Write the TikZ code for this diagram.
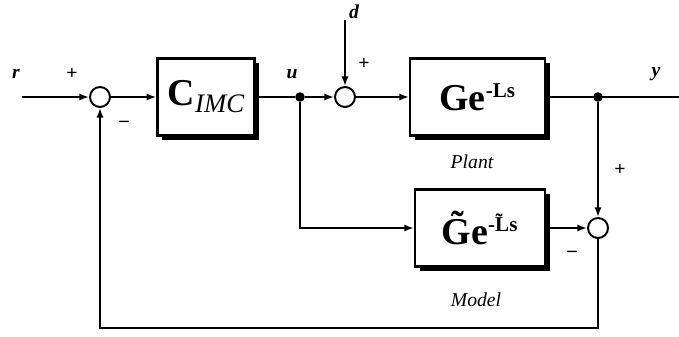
\documentclass[tikz,border=0pt]{standalone}
\usepackage{fontspec}
\setmainfont{Liberation Serif}
\usepackage{tikz}
\usetikzlibrary{shadows, arrows.meta}

\begin{document}
\begin{tikzpicture}[
  blk/.style={rectangle, draw, line width=1.6pt, fill=white, minimum height=1.93cm,
              drop shadow={shadow xshift=0.12cm, shadow yshift=-0.12cm, opacity=1, fill=black},
              font=\fontsize{27}{29}\selectfont\bfseries},
  sum/.style={circle, draw, line width=1.4pt, fill=white, minimum size=0.5cm, inner sep=0pt},
  jn/.style={circle, fill=black, minimum size=0.24cm, inner sep=0pt},
  sig/.style={font=\fontsize{14}{16}\selectfont\bfseries\itshape},
  sgn/.style={font=\fontsize{14}{16}\selectfont\bfseries},
  lab/.style={font=\fontsize{14}{16}\selectfont\itshape},
  arrow/.style={-{Latex[length=2.4mm,width=1.8mm]}, line width=1.5pt},
  line/.style={line width=1.5pt}
]
\useasboundingbox (0,0) rectangle (16.975,-8.4);

%% Blocks
\node[sum]                       at (2.5,-2.425)   (s1)   {};
\node[blk, minimum width=2.43cm] at (5.15,-2.425)  (cimc) {C\raisebox{-0.4ex}{\fontsize{19}{21}\selectfont\mdseries\itshape IMC}};
\node[jn]                        at (7.5,-2.425)   (ju)   {};
\node[sum]                       at (8.625,-2.425) (s2)   {};
\node[blk, minimum width=3.37cm] at (11.94,-2.425) (plant){Ge\textsuperscript{\fontsize{15}{16}\selectfont -Ls}};
\node[jn]                        at (14.95,-2.425) (jy)   {};
\node[blk, minimum width=3.25cm] at (12.0,-5.7)    (model){\~{G}e\textsuperscript{\fontsize{15}{16}\selectfont -\~{L}s}};
\node[sum]                       at (14.95,-5.7)   (s3)   {};

%% Ends and corners
\coordinate (rin)  at (0.55,-2.425);
\coordinate (din)  at (8.625,-0.5);
\coordinate (yout) at (16.975,-2.425);
\coordinate (cb1)  at (14.95,-8.2);
\coordinate (cb2)  at (2.5,-8.2);

%% Labels
\node[sig] at (0.4,-1.85)    (rl) {r};
\node[sig] at (7.3,-1.85)    (ul) {u};
\node[sig] at (8.85,-0.3)    (dl) {d};
\node[sig] at (16.4,-1.85)   (yl) {y};
\node[sgn] at (1.8,-1.85)    (p1) {+};
\node[sgn] at (3.1,-3.1)     (m1) {--};
\node[sgn] at (9.1,-1.6)     (p2) {+};
\node[sgn] at (15.5,-4.25)   (p3) {+};
\node[sgn] at (14.3,-6.35)   (m3) {--};
\node[lab] at (11.8,-4.05)   (pl) {Plant};
\node[lab] at (11.9,-7.5)    (ml) {Model};

%% Arrows
\draw[arrow] (rin)   -- (s1);
\draw[arrow] (s1)    -- (cimc);
\draw[line]  (cimc)  -- (ju);
\draw[arrow] (ju)    -- (s2);
\draw[arrow] (din)   -- (s2);
\draw[arrow] (s2)    -- (plant);
\draw[line]  (plant) -- (yout);
\draw[arrow] (jy)    -- (s3);
\draw[arrow] (ju)    |- (model);
\draw[arrow] (model) -- (s3);
\draw[arrow] (s3) -- (cb1) -- (cb2) -- (s1);
\end{tikzpicture}
\end{document}
